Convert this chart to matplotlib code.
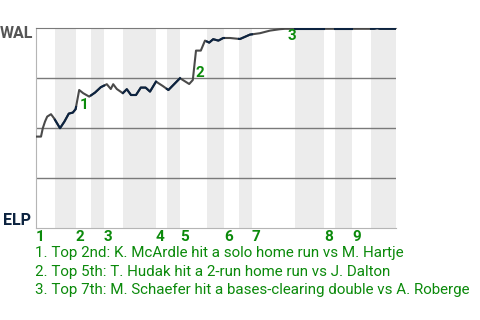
import numpy as np
import matplotlib
matplotlib.use("Agg")
import matplotlib.pyplot as plt

# win probability for WAL, by play number
play = [0.0, 1.25, 1.7, 2.25, 2.8, 3.75, 4.5, 6.0, 7.1, 8.2, 9.2, 9.9,
        10.8, 11.8, 13.3, 14.75, 16.2, 17.0, 17.7, 18.7, 19.3, 20.2,
        21.7, 22.7, 23.75, 25.0, 26.2, 27.4, 28.5, 30.0, 31.7, 33.1,
        36.0, 38.3, 39.2, 40.0, 41.2, 42.25, 43.3, 44.3, 45.6, 46.8,
        48.5, 51.0, 53.5, 56.0, 58.5, 61.0, 62.25, 70.0, 76.0, 84.5,
        85.3, 86.0, 90.0]
wal_prob = [0.457, 0.457, 0.499, 0.532, 0.557, 0.569, 0.549, 0.499, 0.532,
            0.572, 0.577, 0.594, 0.69, 0.674, 0.657, 0.677, 0.704, 0.712,
            0.719, 0.695, 0.719, 0.695, 0.674, 0.694, 0.665, 0.665, 0.702,
            0.702, 0.682, 0.732, 0.71, 0.69, 0.749, 0.72, 0.74, 0.887,
            0.887, 0.937, 0.927, 0.944, 0.937, 0.95, 0.95, 0.945, 0.967,
            0.974, 0.987, 0.994, 0.996, 0.996, 0.996, 0.996, 0.999, 0.996,
            0.996]

# half innings: top starts, bottom starts, end of inning
top_start = [0, 10, 17, 30, 36, 47, 54, 72, 79]
bot_start = [4.75, 13.75, 21.75, 32.75, 42.75, 50.75, 64.75, 74.75, 83.75]
inn_end = [10, 17, 30, 36, 47, 54, 72, 79, 90]
innings = ["1", "2", "3", "4", "5", "6", "7", "8", "9"]

# key plays
event_x = [12, 41, 64]
event_y = [0.615, 0.775, 0.96]
event_lbl = ["1", "2", "3"]
event_text = ["1. Top 2nd: K. McArdle hit a solo home run vs M. Hartje",
              "2. Top 5th: T. Hudak hit a 2-run home run vs J. Dalton",
              "3. Top 7th: M. Schaefer hit a bases-clearing double vs A. Roberge"]

green = '#0b8a0b'
navy = '#0c2340'
plt.rcParams['font.family'] = ['Roboto', 'DejaVu Sans']

fig = plt.figure(figsize=(4.8, 3.2), dpi=100)
ax = fig.add_axes([36/480, 1-228/320, 360/480, 200/320])
ax.set_xlim(0, 90)
ax.set_ylim(0, 1)

for b0, b1 in zip(bot_start, inn_end):
    ax.axvspan(b0, b1, color='#ececec', lw=0, zorder=0)
for yv in [0.25, 0.5, 0.75]:
    ax.axhline(yv, color='#7a7a7a', lw=1, zorder=1)

x = np.array(play)
y = np.array(wal_prob)
ax.plot(x, y, color='#4a4a4a', lw=1.5, zorder=3)
# bottom halves in navy
for b0, b1 in zip(bot_start, inn_end):
    inside = (x > b0) & (x < b1)
    xs = np.concatenate([[b0], x[inside], [b1]])
    ys = np.interp(xs, x, y)
    ax.plot(xs, ys, color=navy, lw=1.5, zorder=4)

for ex, ey, lb in zip(event_x, event_y, event_lbl):
    ax.text(ex, ey, lb, color=green, fontsize=11, fontweight='bold',
            ha='center', va='center', zorder=5)

for s in ['left', 'bottom']:
    ax.spines[s].set_color('#b5b5b5')
ax.spines['top'].set_color('#7a7a7a')
ax.spines['right'].set_visible(False)
ax.set_xticks([])
ax.set_yticks([])

fig.text(33/480, 1-34/320, "WAL", color='#555555', fontsize=11.5,
         fontweight='bold', ha='right', va='center')
fig.text(3/480, 1-220.5/320, "ELP", color=navy, fontsize=11.5,
         fontweight='bold', ha='left', va='center')

for ts, lb in zip(top_start, innings):
    ax.text(ts, -0.045, lb, color=green, fontsize=11, fontweight='bold',
            ha='left', va='center', transform=ax.get_xaxis_transform())

for i, t in enumerate(event_text):
    fig.text(35/480, 1-(253.3 + 18.3*i)/320, t, color=green, fontsize=10.9,
             ha='left', va='center')

fig.savefig('out.png', dpi=100)
